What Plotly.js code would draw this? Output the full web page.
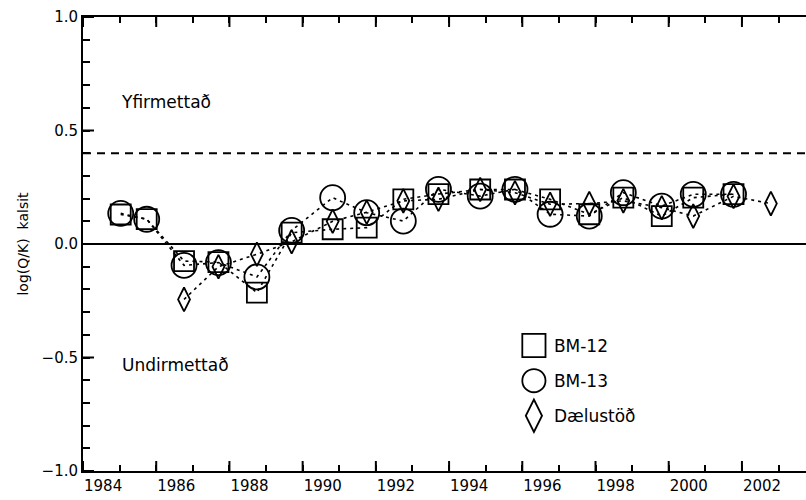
<!DOCTYPE html>
<html>
<head>
<meta charset="utf-8">
<script src="https://cdn.plot.ly/plotly-3.0.1.min.js"></script>
<style>html,body{margin:0;padding:0;background:#fff;}#chart{width:806px;height:500px;}</style>
</head>
<body>
<div id="chart"></div>
<script>
// BM-12 (squares)
var bm12Years = [1985.03, 1985.74, 1986.76, 1987.70, 1988.75, 1989.70, 1990.82, 1991.75, 1992.75, 1993.71, 1994.85, 1995.80, 1996.76, 1997.83, 1998.76, 1999.81, 2000.67, 2001.77];
var bm12Values = [0.13, 0.11, -0.075, -0.08, -0.214, 0.05, 0.065, 0.072, 0.197, 0.22, 0.24, 0.24, 0.197, 0.131, 0.204, 0.123, 0.204, 0.22];
// BM-13 (circles)
var bm13Years = [1985.03, 1985.74, 1986.76, 1987.70, 1988.75, 1989.70, 1990.82, 1991.75, 1992.75, 1993.71, 1994.85, 1995.80, 1996.76, 1997.83, 1998.76, 1999.81, 2000.67, 2001.77];
var bm13Values = [0.135, 0.109, -0.094, -0.082, -0.145, 0.06, 0.204, 0.138, 0.101, 0.241, 0.211, 0.241, 0.131, 0.123, 0.226, 0.167, 0.219, 0.219];
// Dælustöð (diamonds)
var daelYears = [1986.76, 1987.70, 1988.75, 1989.70, 1990.82, 1991.75, 1992.75, 1993.71, 1994.85, 1995.80, 1996.76, 1997.83, 1998.76, 1999.81, 2000.67, 2001.77, 2002.79];
var daelValues = [-0.244, -0.10, -0.045, 0.01, 0.10, 0.14, 0.19, 0.197, 0.24, 0.226, 0.175, 0.178, 0.19, 0.16, 0.123, 0.21, 0.178];

var seriesNames = ['BM-12', 'BM-13', 'Dælustöð'];
var tickYears = [1984, 1986, 1988, 1990, 1992, 1994, 1996, 1998, 2000, 2002];
var yMajorTicks = [-1, -0.5, 0, 0.5, 1];
var supersatLevel = 0.4;

var F = 'DejaVu Sans, Liberation Sans, sans-serif';
var lineStyle = {color: '#000', width: 1.6, dash: '3px,4px'};

function lineTrace(x, y, xa, ya) {
  return {x: x, y: y, type: 'scatter', mode: 'lines', showlegend: false, hoverinfo: 'skip',
          line: lineStyle, xaxis: xa, yaxis: ya};
}
function markTrace(x, y, name, symbol, size, grp, xa, ya) {
  return {
    x: x, y: y, name: name, type: 'scatter', mode: 'markers', legendgroup: grp,
    xaxis: xa, yaxis: ya,
    marker: {symbol: symbol, size: size, color: '#000', line: {color: '#000', width: 1.8}}
  };
}

var data = [
  lineTrace(bm12Years, bm12Values, 'x', 'y'),
  lineTrace(bm13Years, bm13Values, 'x', 'y'),
  lineTrace(daelYears, daelValues, 'x2', 'y2'),
  markTrace(bm12Years, bm12Values, seriesNames[0], 'square-open', 20, 'a', 'x', 'y'),
  markTrace(bm13Years, bm13Values, seriesNames[1], 'circle-open', 25, 'b', 'x', 'y'),
  markTrace(daelYears, daelValues, seriesNames[2], 'diamond-tall-open', 17, 'c', 'x2', 'y2')
];

var tickCommon = {ticks: 'inside', tickwidth: 2, tickcolor: '#000'};

// major tick marks (axis decoration) as pixel-length shapes
var tickShapes = [];
tickYears.forEach(function (yr) {
  tickShapes.push({type: 'line', xref: 'x', x0: yr, x1: yr, yref: 'paper', ysizemode: 'pixel', yanchor: 0, y0: 0, y1: 10,
                   line: {color: '#000', width: 2}});
  tickShapes.push({type: 'line', xref: 'x', x0: yr, x1: yr, yref: 'paper', ysizemode: 'pixel', yanchor: 1, y0: 0, y1: -10,
                   line: {color: '#000', width: 2}});
});
yMajorTicks.forEach(function (v) {
  tickShapes.push({type: 'line', yref: 'y', y0: v, y1: v, xref: 'paper', xsizemode: 'pixel', xanchor: 0, x0: 0, x1: 11,
                   line: {color: '#000', width: 2}});
});

var layout = {
  width: 806, height: 500,
  margin: {l: 83, r: 0, t: 17, b: 29},
  paper_bgcolor: '#fff', plot_bgcolor: '#fff',
  font: {family: F, color: '#000', size: 15},
  showlegend: true,
  legend: {
    x: 0.596, y: 0.315, xanchor: 'left', yanchor: 'top',
    bgcolor: 'rgba(0,0,0,0)', font: {family: F, size: 17, color: '#000'},
    tracegroupgap: 10, traceorder: 'grouped', itemsizing: 'trace'
  },
  xaxis: {
    range: [1984, 2003.75], showgrid: false, zeroline: false,
    showline: true, linecolor: '#000', linewidth: 2, mirror: true,
    ticks: '', tickmode: 'array', tickvals: tickYears, ticktext: tickYears.map(String),
    ticklabelposition: 'outside right',
    tickfont: {family: F, size: 15, color: '#000'}
  },
  yaxis: {
    range: [-1, 1], showgrid: false,
    zeroline: true, zerolinecolor: '#000', zerolinewidth: 2,
    showline: true, linecolor: '#000', linewidth: 2,
    ticks: '', tickmode: 'linear', dtick: 0.5, tick0: 0, tickformat: '.1f',
    tickfont: {family: F, size: 15, color: '#000'},
    title: {text: 'log(Q/K)  kalsit', font: {family: F, size: 14, color: '#000'}, standoff: 10},
    automargin: false
  },
  // overlay axes carrying the minor ticks (same scale as the main axes)
  xaxis2: Object.assign({
    matches: 'x', overlaying: 'x', anchor: 'y2', side: 'bottom', showgrid: false, zeroline: false,
    showline: false, ticklen: 6, tickmode: 'linear', tick0: 1984, dtick: 1, showticklabels: false,
    mirror: 'ticks'
  }, tickCommon),
  yaxis2: Object.assign({
    matches: 'y', overlaying: 'y', anchor: 'x2', side: 'left', showgrid: false, zeroline: false,
    showline: false, ticklen: 7, tickmode: 'linear', tick0: 0, dtick: 0.1, showticklabels: false
  }, tickCommon),
  shapes: [
    {type: 'line', xref: 'paper', x0: 0, x1: 1, yref: 'y', y0: supersatLevel, y1: supersatLevel,
     line: {color: '#000', width: 2, dash: '8px,6px'}}
  ].concat(tickShapes),
  annotations: [
    {text: 'Yfirmettað', xref: 'paper', yref: 'paper', x: 0.05, y: 0.813, xanchor: 'left', yanchor: 'middle',
     showarrow: false, font: {family: F, size: 17, color: '#000'}},
    {text: 'Undirmettað', xref: 'paper', yref: 'paper', x: 0.051, y: 0.233, xanchor: 'left', yanchor: 'middle',
     showarrow: false, font: {family: F, size: 17, color: '#000'}}
  ]
};

Plotly.newPlot('chart', data, layout, {displayModeBar: false, staticPlot: true}).then(function (gd) {
  // enlarge legend symbols to the size used in the figure
  var pts = gd.querySelectorAll('.legend .legendpoints path.scatterpts');
  pts.forEach(function (p) {
    var t = p.getAttribute('transform') || '';
    p.setAttribute('transform', t + ' scale(1.45)');
    p.style.strokeWidth = (1.8 / 1.45) + 'px';
  });
});
</script>
</body>
</html>
